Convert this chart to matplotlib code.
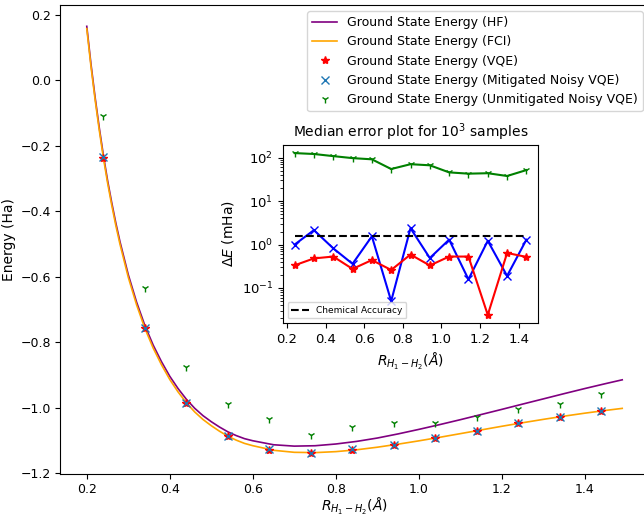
import matplotlib
matplotlib.use("Agg")
import matplotlib.pyplot as plt

# ---- curve data (Ha) ----
r_curve = [0.20, 0.21, 0.22, 0.23, 0.24, 0.25, 0.26, 0.27, 0.28, 0.30, 0.32,
           0.34, 0.36, 0.38, 0.40, 0.42, 0.44, 0.46, 0.48, 0.50, 0.52, 0.54,
           0.56, 0.58, 0.60, 0.65, 0.70, 0.75, 0.80, 0.85, 0.90, 0.95, 1.00,
           1.05, 1.10, 1.15, 1.20, 1.25, 1.30, 1.35, 1.40, 1.45, 1.49]
e_fci = [0.157, 0.043, -0.059, -0.152, -0.237, -0.313, -0.381, -0.444, -0.501,
         -0.602, -0.686, -0.758, -0.818, -0.869, -0.914, -0.952, -0.985, -1.013,
         -1.036, -1.055, -1.072, -1.087, -1.099, -1.109, -1.116, -1.130, -1.1362,
         -1.1371, -1.1341, -1.1285, -1.1206, -1.1113, -1.1012, -1.0904, -1.0792,
         -1.0679, -1.0567, -1.0459, -1.0356, -1.0258, -1.0167, -1.0083, -1.0021]
e_hf = [0.164, 0.050, -0.052, -0.1446, -0.2295, -0.3055, -0.3734, -0.4363,
        -0.4932, -0.594, -0.6777, -0.7493, -0.809, -0.8596, -0.9042, -0.9417,
        -0.9743, -1.0018, -1.0243, -1.0428, -1.0592, -1.0737, -1.0851, -1.0945,
        -1.1009, -1.1131, -1.1173, -1.1161, -1.1108, -1.1029, -1.0926, -1.0800,
        -1.0662, -1.0517, -1.0366, -1.0209, -1.0051, -0.9890, -0.9731, -0.9571,
        -0.9415, -0.9265, -0.9149]

# ---- sampled points ----
r_pts = [0.24, 0.34, 0.44, 0.54, 0.64, 0.74, 0.84, 0.94, 1.04, 1.14, 1.24, 1.34, 1.44]
e_vqe = [-0.2367, -0.7575, -0.9845, -1.0867, -1.1276, -1.1370, -1.1292,
         -1.1130, -1.0921, -1.0697, -1.0480, -1.0271, -1.0095]
e_mit = [-0.2360, -0.7558, -0.9842, -1.0866, -1.1265, -1.1373, -1.1274,
         -1.1128, -1.0913, -1.0700, -1.0468, -1.0275, -1.0087]
e_unmit = [-0.109, -0.636, -0.876, -0.989, -1.036, -1.082, -1.059, -1.046,
           -1.047, -1.027, -1.004, -0.990, -0.958]

# ---- median errors (mHa) ----
err_unmit = [128, 122, 109, 98, 92, 55, 71, 67, 46, 43, 44, 38, 52]
err_mit = [1.0, 2.15, 0.82, 0.36, 1.55, 0.050, 2.38, 0.49, 1.30, 0.158, 1.22, 0.19, 1.30]
err_vqe = [0.333, 0.48, 0.53, 0.275, 0.44, 0.26, 0.59, 0.33, 0.53, 0.53, 0.024, 0.64, 0.52]
chem_acc = 1.6

fig = plt.figure(figsize=(6.44, 5.17), dpi=100)
ax = fig.add_axes([60/644, 1-474/517, 589/644, 469/517])

ax.plot(r_curve, e_hf, color="purple", lw=1.2, label="Ground State Energy (HF)")
ax.plot(r_curve, e_fci, color="orange", lw=1.2, label="Ground State Energy (FCI)")
ax.plot(r_pts, e_vqe, "*", color="red", ls="none", label="Ground State Energy (VQE)")
ax.plot(r_pts, e_mit, "x", color="tab:blue", ls="none",
        label="Ground State Energy (Mitigated Noisy VQE)")
ax.plot(r_pts, e_unmit, "1", color="green", ls="none",
        label="Ground State Energy (Unmitigated Noisy VQE)")
ax.set_xticks([0.2, 0.4, 0.6, 0.8, 1.0, 1.2, 1.4])
ax.tick_params(labelsize=9, pad=3)
ax.set_xlabel(r"$R_{H_1-H_2}(\AA)$", fontsize=10, labelpad=0)
ax.set_ylabel("Energy (Ha)", fontsize=10, labelpad=3)
ax.legend(loc="upper right", fontsize=9)

ins = fig.add_axes([283/644, 1-323/517, 255/644, 178/517])
ins.plot(r_pts, err_unmit, "-", marker="1", color="green")
ins.plot(r_pts, err_mit, "-", marker="x", color="blue")
ins.plot(r_pts, err_vqe, "-", marker="*", color="red")
ins.hlines(chem_acc, r_pts[0], r_pts[-1], colors="black", linestyles="--",
           label="Chemical Accuracy")
ins.set_yscale("log")
ins.set_xticks([0.2, 0.4, 0.6, 0.8, 1.0, 1.2, 1.4])
ins.tick_params(labelsize=9.5)
ins.set_title(r"Median error plot for $10^3$ samples", fontsize=10)
ins.set_xlabel(r"$R_{H_1-H_2}(\AA)$", fontsize=10)
ins.set_ylabel(r"$\Delta E$ (mHa)", fontsize=10)
ins.legend(loc="lower left", fontsize=6.5)

fig.savefig("out.png", dpi=100)
